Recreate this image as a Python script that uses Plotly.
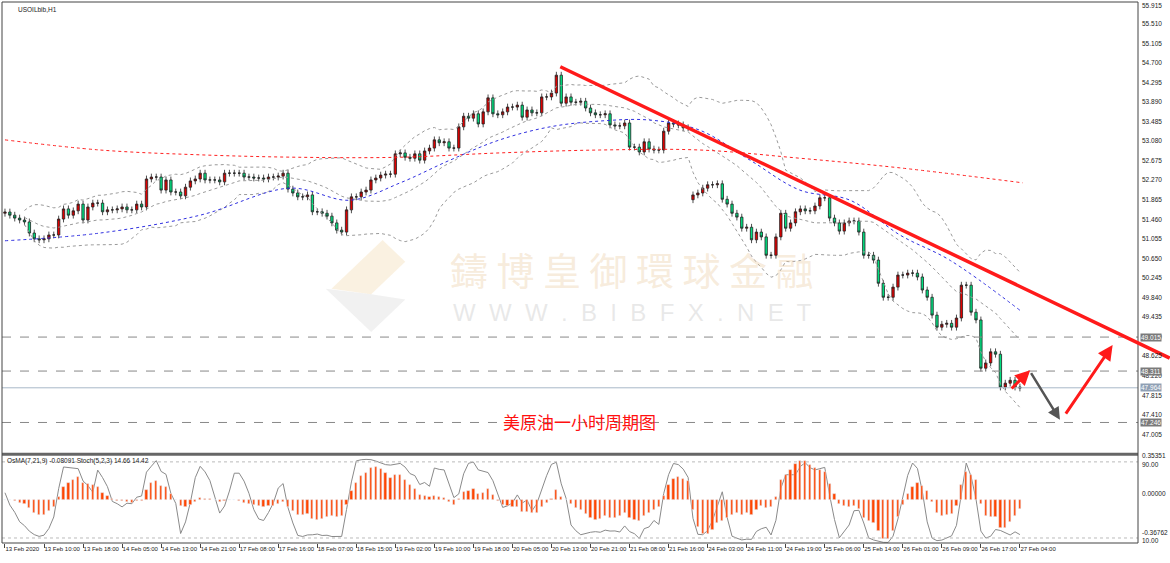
import numpy as np
import pandas as pd
import plotly.graph_objects as go

closes = [
 51.605,51.54,51.48,51.44,51.40,51.17,51.05,51.03,51.05,51.13,51.13,51.46,51.67,51.54,51.63,51.77,51.44,51.71,51.79,51.79,
 51.61,51.65,51.65,51.67,51.71,51.65,51.65,51.77,51.71,52.29,52.33,52.33,52.06,52.27,52.02,52.02,51.94,52.12,52.25,52.29,
 52.41,52.27,52.27,52.27,52.23,52.41,52.41,52.41,52.41,52.33,52.33,52.31,52.31,52.29,52.33,52.33,52.35,52.41,52.08,52.00,51.92,
 51.92,51.96,51.61,51.61,51.58,51.52,51.38,51.23,51.19,51.65,51.92,51.92,52.02,52.06,52.27,52.31,52.37,52.39,52.39,
 52.81,52.83,52.74,52.72,52.81,52.68,52.87,52.93,53.10,53.04,53.06,52.93,52.93,53.37,53.59,53.55,53.64,53.43,53.68,53.97,
 53.64,53.62,53.68,53.78,53.78,53.82,53.57,53.72,53.66,53.66,53.99,53.99,54.07,54.44,53.86,53.99,53.88,53.88,53.90,53.76,
 53.66,53.62,53.62,53.64,
 53.41,53.39,53.39,53.45,52.95,52.95,52.85,53.06,52.91,52.89,52.89,53.28,53.45,53.43,53.41,53.35,53.35,
 51.96,52.00,52.10,52.17,52.17,52.19,51.87,51.77,51.58,51.50,51.27,51.29,51.03,51.19,51.09,50.71,50.71,51.09,51.58,51.27,
 51.38,51.61,51.67,51.63,51.63,51.73,51.90,51.90,51.48,51.38,51.21,51.38,51.42,51.42,51.19,50.71,
 50.71,50.61,50.13,49.84,49.84,50.05,50.30,50.30,50.34,50.34,50.26,49.99,49.84,49.47,49.22,49.28,49.30,49.22,49.41,50.09,
 50.09,49.53,49.37,48.37,48.48,48.71,48.66,47.98,48.06,48.12,47.98,47.96]
first_open = 51.58
gap_index = 141
gap_open = 51.86
wick = 0.07

red_ma_idx = [0, 19.5, 40, 60, 81, 101.4, 121.9, 142.4, 162.9, 183.4, 208.6]
red_ma_val = [53.10, 52.89, 52.79, 52.74, 52.74, 52.83, 52.89, 52.89, 52.72, 52.52, 52.21]
blue_ma_idx = [0, 19.5, 40, 58.4, 70.7, 81, 91.2, 101.4, 111.7, 121.9, 132.2, 142.4, 152.7, 162.9, 173.2, 183.4, 193.6, 208]
blue_ma_val = [51.01, 51.17, 51.54, 52.10, 51.85, 52.21, 52.68, 53.10, 53.37, 53.49, 53.51, 53.30, 52.68, 52.06, 51.85, 51.13, 50.61, 49.57]

hlines = [49.015, 48.311, 47.246]
cur_price = 47.964
yticks = [round(55.915 - 0.405 * k, 3) for k in range(23)]
xtick_labels = ["13 Feb 2020","13 Feb 10:00","13 Feb 18:00","14 Feb 05:00","14 Feb 13:00","14 Feb 21:00",
 "17 Feb 08:00","17 Feb 16:00","18 Feb 07:00","18 Feb 15:00","19 Feb 02:00","19 Feb 10:00","19 Feb 18:00",
 "20 Feb 05:00","20 Feb 13:00","20 Feb 21:00","21 Feb 08:00","21 Feb 16:00","24 Feb 03:00","24 Feb 11:00",
 "24 Feb 19:00","25 Feb 06:00","25 Feb 14:00","26 Feb 01:00","26 Feb 09:00","26 Feb 17:00","27 Feb 04:00"]

N = len(closes)
x = list(range(N))
c = pd.Series(closes)
o = c.shift(1).fillna(first_open)
o[gap_index] = gap_open
hi = np.maximum(o, c) + wick
lo = np.minimum(o, c) - wick

mid = c.rolling(20, min_periods=5).mean()
sd = c.rolling(20, min_periods=5).std(ddof=0)
up, dn = mid + 2 * sd, mid - 2 * sd

ema7 = c.ewm(span=7, adjust=False).mean()
ema21 = c.ewm(span=21, adjust=False).mean()
macd = ema7 - ema21
osma = macd - macd.rolling(9, min_periods=1).mean()
hh = pd.Series(hi).rolling(5, min_periods=1).max()
ll = pd.Series(lo).rolling(5, min_periods=1).min()
stoch = ((c - ll).rolling(3, min_periods=1).sum() / (hh - ll).rolling(3, min_periods=1).sum()) * 100

FS = 6.5
FONT = "Liberation Sans"
fig = go.Figure()
for s in (up, dn, mid):
    fig.add_trace(go.Scatter(x=x, y=s, mode="lines", line=dict(color="#9a9a9a", width=1, dash="dot"), hoverinfo="skip"))
fig.add_trace(go.Scatter(x=red_ma_idx, y=red_ma_val, mode="lines", line=dict(color="#ff2020", width=1, dash="dot", shape="spline")))
fig.add_trace(go.Scatter(x=blue_ma_idx, y=blue_ma_val, mode="lines", line=dict(color="#3030e0", width=1, dash="dot", shape="spline")))
fig.add_trace(go.Candlestick(x=x, open=o, high=hi, low=lo, close=c, whiskerwidth=0,
    increasing=dict(fillcolor="#e00000", line=dict(color="#222", width=0.8)),
    decreasing=dict(fillcolor="#00e080", line=dict(color="#222", width=0.8))))
fig.add_trace(go.Bar(x=x, y=osma, marker_color="#ff4500", width=0.45, xaxis="x", yaxis="y3"))
fig.add_trace(go.Scatter(x=x, y=stoch, mode="lines", line=dict(color="#8a8a8a", width=1), xaxis="x", yaxis="y2"))

shapes = []
for h in hlines:
    shapes.append(dict(type="line", xref="paper", x0=0, x1=1, yref="y", y0=h, y1=h, line=dict(color="#888", width=1, dash="dash")))
shapes.append(dict(type="line", xref="paper", x0=0, x1=1, yref="y", y0=cur_price, y1=cur_price, line=dict(color="#a8b8c8", width=1)))
for v in (90, 10):
    shapes.append(dict(type="line", xref="paper", x0=0, x1=1, yref="y2", y0=v, y1=v, line=dict(color="#bbb", width=1, dash="dot")))
shapes.append(dict(type="line", xref="paper", x0=0, x1=1, yref="paper", y0=0.164, y1=0.164, line=dict(color="#666", width=3)))
shapes.append(dict(type="rect", xref="paper", yref="paper", x0=0, x1=1, y0=0, y1=1, line=dict(color="#444", width=1)))
shapes.append(dict(type="path", xref="paper", yref="paper", layer="below",
    path="M 0.29 0.47 L 0.335 0.56 L 0.355 0.52 L 0.325 0.46 Z", fillcolor="rgba(240,215,170,0.35)", line=dict(width=0)))
shapes.append(dict(type="path", xref="paper", yref="paper", layer="below",
    path="M 0.285 0.47 L 0.325 0.39 L 0.355 0.45 L 0.325 0.46 Z", fillcolor="rgba(220,220,220,0.4)", line=dict(width=0)))

ann = []
def arrow(x0, y0, x1, y1, color, w, head=2):
    ann.append(dict(x=x1, y=y1, ax=x0, ay=y0, xref="x", yref="y", axref="x", ayref="y", text="",
        showarrow=True, arrowhead=head, arrowsize=1, arrowwidth=w, arrowcolor=color))
arrow(113.5, 54.63, 238.7, 48.58, "#ff1a1a", 3.5, head=0)
arrow(206, 47.92, 210.1, 48.33, "#ff1a1a", 3)
arrow(210.1, 48.30, 216.2, 47.30, "#555", 2.5)
arrow(217.2, 47.40, 227, 48.85, "#ff1a1a", 3)
arrow(233.6, 48.54, 237.7, 47.61, "#ff1a1a", 3)

for v in yticks:
    ann.append(dict(xref="paper", x=1.002, y=v, yref="y", text="%.3f" % v, showarrow=False, xanchor="left",
        yshift=(-2 if v == yticks[0] else 0), font=dict(size=FS, color="#222", family=FONT)))
for h in hlines + [cur_price]:
    ann.append(dict(xref="paper", x=1.002, y=h, yref="y", text="%.3f" % h, showarrow=False, xanchor="left",
        bgcolor="#7a7a7a" if h != cur_price else "#8fa0b4", font=dict(size=FS, color="white", family=FONT), borderpad=0))
for v, t in ((0.94, "0.35351"), (0.5, "0.00000"), (0.06, "-0.36762")):
    ann.append(dict(xref="paper", x=1.002, y=v * 0.161, yref="paper", text=t, showarrow=False, xanchor="left",
        font=dict(size=FS, color="#222", family=FONT)))
for v, t in ((90, "90.00"), (10, "10.00")):
    ann.append(dict(xref="paper", x=1.002, y=v, yref="y2", text=t, showarrow=False, xanchor="left", yshift=-3,
        font=dict(size=FS, color="#222", family=FONT)))
ann.append(dict(xref="paper", yref="paper", x=0.012, y=0.997, text="USOILbib,H1", showarrow=False, xanchor="left", yanchor="top",
    font=dict(size=FS, color="#222", family=FONT)))
ann.append(dict(xref="paper", yref="paper", x=0.003, y=0.162, text="OsMA(7,21,9) -0.08091 Stoch(5,2,3) 14.66 14.42", showarrow=False,
    xanchor="left", yanchor="top", font=dict(size=FS, color="#222", family=FONT)))
ann.append(dict(xref="paper", yref="paper", x=0.508, y=0.198, text="美原油一小时周期图", showarrow=False,
    font=dict(size=17, color="#ff1010", family="Noto Sans CJK SC")))
ann.append(dict(xref="paper", yref="paper", x=0.555, y=0.508, text="鑄 博 皇 御 環 球 金 融", showarrow=False,
    font=dict(size=38, color="rgba(235,205,165,0.4)", family="Noto Sans CJK TC")))
ann.append(dict(xref="paper", yref="paper", x=0.555, y=0.426, text="W  W  W  .  B  I  B  F  X  .  N  E  T", showarrow=False,
    font=dict(size=24, color="rgba(190,190,190,0.35)", family=FONT)))

fig.update_layout(
    width=1170, height=563, margin=dict(l=2, r=32, t=2, b=20),
    paper_bgcolor="white", plot_bgcolor="white", showlegend=False,
    shapes=shapes, annotations=ann, bargap=0,
    xaxis=dict(range=[-0.61, 232.2], showgrid=False, zeroline=False, rangeslider=dict(visible=False),
        tickvals=[8 * k for k in range(len(xtick_labels))], ticktext=xtick_labels, ticks="outside", ticklen=4,
        tickcolor="#444", tickangle=0, ticklabelposition="outside right", tickfont=dict(size=6, color="#222", family=FONT),
        anchor="y2", showline=False),
    yaxis=dict(domain=[0.168, 1], range=[46.632, 55.956], showgrid=False, zeroline=False, showticklabels=False),
    yaxis2=dict(domain=[0, 0.161], range=[4.74, 96.3], showgrid=False, zeroline=False, showticklabels=False),
    yaxis3=dict(overlaying="y2", range=[-1.1 * float(osma.abs().max()), 1.1 * float(osma.abs().max())],
        showgrid=False, zeroline=False, showticklabels=False),
)
fig.write_html("out.html", config={"displayModeBar": False},
               post_script="document.body.style.margin='0';document.body.style.overflow='hidden';")
